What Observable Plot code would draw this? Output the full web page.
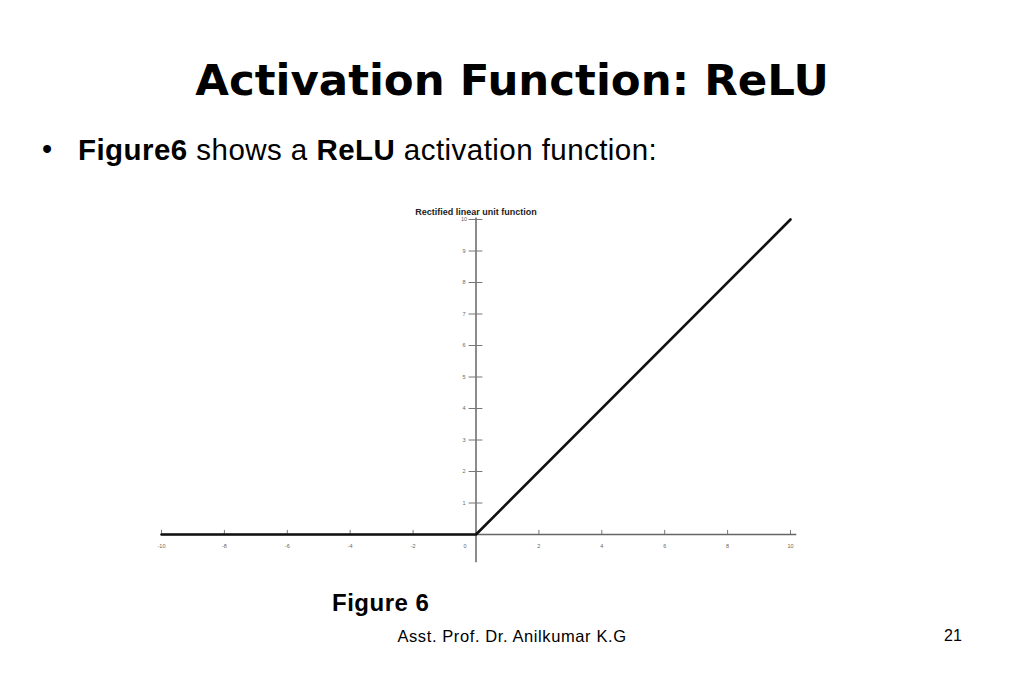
<!DOCTYPE html>
<html>
<head>
<meta charset="utf-8">
<script src="https://cdn.jsdelivr.net/npm/d3@7"></script>
<script src="https://cdn.jsdelivr.net/npm/@observablehq/plot@0.6"></script>
<style>
  html, body { margin: 0; padding: 0; background: #fff; }
  #slide { position: relative; width: 1024px; height: 683px; overflow: hidden; font-family: "Liberation Sans", Arial, sans-serif; color: #000; }
  .t { position: absolute; white-space: nowrap; }
  #title { left: 0; width: 1024px; text-align: center; top: 59px; font-family: "DejaVu Sans", Verdana, sans-serif; font-size: 43.5px; line-height: 43.5px; font-weight: bold; }
  #bullet { left: 78px; top: 135px; font-size: 29.5px; line-height: 29px; letter-spacing: 0.45px; }
  #dot { left: 42px; top: 135px; font-size: 29px; line-height: 29px; }
  #ctitle { left: 376px; width: 200px; text-align: center; top: 208px; font-size: 9px; line-height: 9px; font-weight: bold; color: #222; z-index: 2; }
  #fig { left: 332px; top: 591px; font-size: 24px; line-height: 24px; font-weight: bold; letter-spacing: 0.5px; }
  #footer { left: 0; width: 1024px; text-align: center; top: 628px; font-size: 16.5px; line-height: 16px; letter-spacing: 0.6px; }
  #page { left: 944px; top: 628px; font-size: 16px; line-height: 16px; }
  #chart { position: absolute; left: 0; top: 190px; }
</style>
</head>
<body>
<div id="slide">
  <div class="t" id="title">Activation Function: ReLU</div>
  <div class="t" id="dot">•</div>
  <div class="t" id="bullet"><b>Figure6</b> shows a <b>ReLU</b> activation function:</div>
  <div class="t" id="ctitle">Rectified linear unit function</div>
  <div id="chart"></div>
  <div class="t" id="fig">Figure 6</div>
  <div class="t" id="footer">Asst. Prof. Dr. Anilkumar K.G</div>
  <div class="t" id="page">21</div>
</div>
<script>
// ReLU curve points (x, y)
const xs = [-10, 0, 10];
const ys = [0, 0, 10];
// tick labels
const xTicks = [-10, -8, -6, -4, -2, 0, 2, 4, 6, 8, 10];
const yTicks = [1, 2, 3, 4, 5, 6, 7, 8, 9, 10];

const curve = xs.map((x, i) => ({x, y: ys[i]}));
const xLabelsNonZero = xTicks.filter(d => d !== 0);
const xLabelsZero = xTicks.filter(d => d === 0);

const plot = Plot.plot({
  width: 1024,
  height: 400,
  marginLeft: 161,
  marginRight: 234,
  marginTop: 29,
  marginBottom: 56,
  x: {domain: [-10, 10], axis: null},
  y: {domain: [0, 10], axis: null},
  style: {fontFamily: "'Liberation Sans', Arial, sans-serif", background: "transparent"},
  marks: [
    // axes lines
    Plot.ruleY([0], {x1: -10, x2: 10.2, stroke: "#666", strokeWidth: 1.5}),
    Plot.ruleX([0], {y1: -0.9, y2: 10.05, stroke: "#666", strokeWidth: 1.5}),
    // y ticks crossing axis
    Plot.ruleY(yTicks, {x1: -0.22, x2: 0.22, stroke: "#777", strokeWidth: 1}),
    // x ticks
    Plot.ruleX(xTicks, {y1: 0, y2: 0.13, stroke: "#777", strokeWidth: 1}),
    // labels
    Plot.text(yTicks, {x: 0, y: d => d, text: d => String(d), dx: -12, textAnchor: "middle", fontSize: 5.5, fill: "#666"}),
    Plot.text(xLabelsNonZero, {x: d => d, y: 0, text: d => String(d), dy: 12, textAnchor: "middle", fontSize: 5.5, fill: "#666"}),
    Plot.text(xLabelsZero, {x: d => d, y: 0, text: d => String(d), dy: 12, dx: -11, textAnchor: "middle", fontSize: 5.5, fill: "#666"}),
    // ReLU line
    Plot.line(curve, {x: "x", y: "y", stroke: "#111", strokeWidth: 2.6})
  ]
});
document.getElementById("chart").appendChild(plot);
</script>
</body>
</html>
